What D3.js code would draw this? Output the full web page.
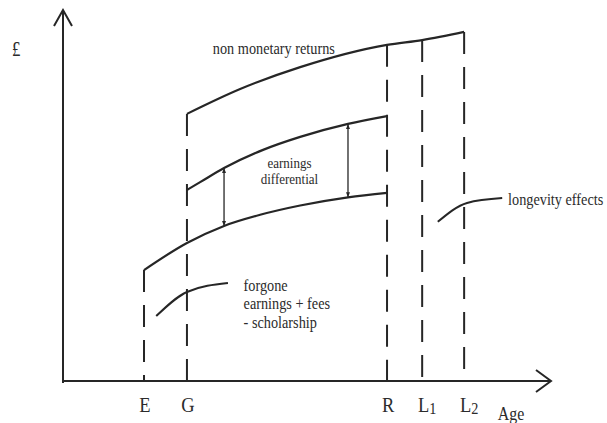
<!DOCTYPE html>
<html>
<head>
<meta charset="utf-8">
<script src="https://cdn.jsdelivr.net/npm/d3@7"></script>
<style>
  html, body { margin: 0; padding: 0; background: #fff; }
  svg { display: block; }
  text { font-family: "Liberation Serif", "Times New Roman", serif; fill: #2b2b2b; }
</style>
</head>
<body>
<svg id="chart"></svg>
<script>
// ---- data (abstract units: age 0-100 along x, £ 0-100 along y) ----
const markLabels = ["E", "G", "R", "L", "L"];
const markSubs = ["", "", "", "1", "2"];
const markAges = [16.6, 25.4, 66.4, 73.6, 82.2];
const markTops = [29.9, 72.0, 90.6, 91.9, 94.1];

// earnings without higher education (starts at E)
const baseAges = [16.6, 25.4, 33.0, 40.4, 48.6, 58.4, 66.4];
const baseValues = [29.9, 37.2, 41.8, 44.8, 47.3, 49.5, 50.7];

// earnings of graduates (starts at G)
const gradAges = [25.4, 28.1, 33.0, 41.0, 48.6, 58.4, 66.4];
const gradValues = [51.5, 53.6, 57.4, 62.3, 65.8, 69.3, 71.4];

// earnings + non monetary returns (runs on to L2)
const nonMonAges = [25.4, 36.3, 48.6, 66.4, 73.6, 82.2];
const nonMonValues = [72.0, 78.7, 84.6, 90.6, 91.9, 94.1];

// leader lines for the notes
const forgoneAges = [19.1, 25.4, 33.8];
const forgoneValues = [17.5, 24.0, 26.4];
const longevityAges = [76.8, 82.8, 90.0];
const longevityValues = [42.9, 48.0, 49.3];

// double arrows for the earnings differential
const diffAges = [33.0, 58.4];
const diffTop = [57.4, 69.3];
const diffBottom = [41.8, 49.5];

const notesNonMon = ["non monetary returns"];
const notesDiff = ["earnings", "differential"];
const notesForgone = ["forgone", "earnings + fees", "- scholarship"];
const notesLongevity = ["longevity effects"];

document.addEventListener("DOMContentLoaded", function () {
    const width = 607;
    const height = 423;
    const ink = "#262626";
    const squeeze = 0.84; // the scan is narrower than it is tall

    const svg = d3.select("#chart")
        .attr("width", width)
        .attr("height", height);

    const x = d3.scaleLinear().domain([0, 100]).range([63, 551]);
    const y = d3.scaleLinear().domain([0, 100]).range([381, 10]);

    const line = d3.line()
        .x(d => x(d[0]))
        .y(d => y(d[1]))
        .curve(d3.curveMonotoneX);

    const zip = (a, b) => a.map((v, i) => [v, b[i]]);

    // small arrow head for the differential arrows
    svg.append("defs").append("marker")
        .attr("id", "head")
        .attr("viewBox", "0 0 10 10")
        .attr("refX", 10)
        .attr("refY", 5)
        .attr("markerUnits", "userSpaceOnUse")
        .attr("markerWidth", 7)
        .attr("markerHeight", 5)
        .attr("orient", "auto-start-reverse")
        .append("path")
        .attr("d", "M0,1 L10,5 L0,9 Z")
        .attr("fill", ink);

    // ---- axes ----
    const axes = svg.append("g")
        .attr("stroke", ink)
        .attr("stroke-width", 2)
        .attr("fill", "none");

    axes.append("line")
        .attr("x1", x(0)).attr("y1", y(0) + 2)
        .attr("x2", x(0)).attr("y2", y(100));
    axes.append("path")
        .attr("d", `M${x(0) - 9},${y(100) + 16} L${x(0)},${y(100)} L${x(0) + 9},${y(100) + 16}`);

    axes.append("line")
        .attr("x1", x(0)).attr("y1", y(0))
        .attr("x2", x(100)).attr("y2", y(0));
    axes.append("path")
        .attr("d", `M${x(100) - 15},${y(0) - 11} L${x(100)},${y(0)} L${x(100) - 15},${y(0) + 11}`);

    // ---- dashed age markers ----
    svg.append("g")
        .selectAll("line")
        .data(markAges)
        .join("line")
        .attr("x1", d => x(d))
        .attr("x2", d => x(d))
        .attr("y1", (d, i) => y(markTops[i]))
        .attr("y2", y(0))
        .attr("stroke", ink)
        .attr("stroke-width", 2)
        .attr("stroke-dasharray", "22,13");

    // ---- curves ----
    const curves = [
        zip(baseAges, baseValues),
        zip(gradAges, gradValues),
        zip(nonMonAges, nonMonValues)
    ];
    svg.append("g")
        .selectAll("path")
        .data(curves)
        .join("path")
        .attr("d", line)
        .attr("fill", "none")
        .attr("stroke", ink)
        .attr("stroke-width", 2.2);

    // leader lines
    svg.append("g")
        .selectAll("path")
        .data([zip(forgoneAges, forgoneValues), zip(longevityAges, longevityValues)])
        .join("path")
        .attr("d", line)
        .attr("fill", "none")
        .attr("stroke", ink)
        .attr("stroke-width", 2);

    // differential arrows
    svg.append("g")
        .selectAll("line")
        .data(diffAges)
        .join("line")
        .attr("x1", d => x(d))
        .attr("x2", d => x(d))
        .attr("y1", (d, i) => y(diffTop[i]))
        .attr("y2", (d, i) => y(diffBottom[i]))
        .attr("stroke", ink)
        .attr("stroke-width", 1.3)
        .attr("marker-start", "url(#head)")
        .attr("marker-end", "url(#head)");

    // ---- text ----
    function label(px, py, str, size, anchor) {
        return svg.append("text")
            .attr("transform", `translate(${px},${py}) scale(${squeeze},1)`)
            .attr("text-anchor", anchor)
            .attr("font-size", size + "px")
            .text(str);
    }

    label(x(0) - 51, y(100) + 46, "£", 20, "start");
    label(x(89.1), y(0) + 39, "Age", 19, "start");

    // tick letters under the axis
    markAges.forEach((a, i) => {
        const shift = markSubs[i] ? 5 : 1;
        const t = label(x(a) + shift, y(0) + 31, markLabels[i], 22, "middle");
        if (markSubs[i]) {
            t.append("tspan")
                .attr("font-size", "17px")
                .attr("dy", 2)
                .text(markSubs[i]);
        }
    });

    label(x(30.7), y(88.1), notesNonMon[0], 17, "start");

    notesDiff.forEach((s, i) => {
        label(x(46.4), y(57.4) + i * 16, s, 15.5, "middle");
    });

    notesForgone.forEach((s, i) => {
        label(x(37.0), y(24.3) + i * 18.5, s, 17, "start");
    });

    label(x(91.2), y(47.4), notesLongevity[0], 17, "start");
});
</script>
</body>
</html>
